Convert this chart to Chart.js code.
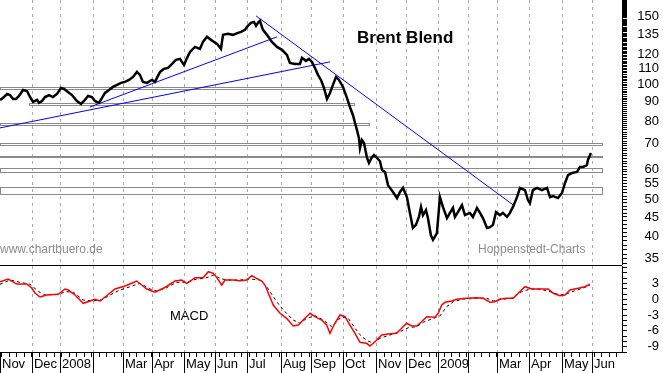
<!DOCTYPE html>
<html lang="de">
<head>
<meta charset="UTF-8">
<title>Brent Blend</title>
<style>
  html, body { margin: 0; padding: 0; background: #fff; }
  #wrap { position: relative; width: 663px; height: 373px; overflow: hidden; }
  #priceBox { position: absolute; left: 0; top: 0; width: 663px; height: 265px; }
  #macdBox { position: absolute; left: 0; top: 265px; width: 663px; height: 108px; }
</style>
</head>
<body>
<div id="wrap">
  <div id="priceBox"><canvas id="priceChart"></canvas></div>
  <div id="macdBox"><canvas id="macdChart"></canvas></div>
</div>
<script src="https://cdn.jsdelivr.net/npm/chart.js"></script>
<script>
// x axis = trading day count from start of Nov 2007
const dayMax = 414.7;
const monthDay = [0, 21.3, 40, 62, 82, 101.3, 122.7, 143.3, 164.7, 187.3, 207.3,
                  228.7, 250.7, 270.7, 292, 312, 331.3, 352.7, 374.7, 394.7];
const monthLabel = ['Nov', 'Dec', '2008', '', 'Mar', 'Apr', 'May', 'Jun', 'Jul', 'Aug', 'Sep',
                    'Oct', 'Nov', 'Dec', '2009', '', 'Mar', 'Apr', 'May', 'Jun'];

// Brent price (USD)
const priceDay = [
  0, 2, 4.7, 6.7, 8.7, 10.7, 12.7, 15.3, 18, 20,
  22, 24.7, 26, 28, 30, 32.7, 35.3, 38, 40.7, 42.7,
  45.3, 48, 51.3, 54, 56, 58.7, 61.3, 63.3, 66, 68,
  70, 72.7, 75.3, 78, 80.7, 83.3, 86, 88.7, 91.3, 93.3,
  95.3, 98, 101.3, 103.3, 106.7, 109.3, 112, 114.7, 117.3, 120,
  121.3, 122.7, 124.7, 126.7, 130, 133.3, 135.3, 138, 140.7, 142.7,
  144.7, 147.3, 148.7, 152, 155.3, 158.7, 160.7, 163.3, 165.3, 167.3,
  169.3, 170.7, 172, 173.3, 175.3, 178, 181.3, 184.7, 188, 191.3,
  193.3, 196.7, 200, 201.3, 204, 206, 208, 210, 212, 214,
  216, 218, 220, 222, 224, 226, 228.7, 231.3, 233.3, 235.3,
  236.7, 238, 239.3, 240, 241.3, 242.7, 244.7, 246, 248, 249.3,
  251.3, 253.3, 254.7, 256.7, 258.7, 260, 262, 264.7, 266.7, 268.7,
  271.3, 273.3, 275.3, 277.3, 279.3, 280.7, 282, 284, 285.3, 287.3,
  288.7, 291.3, 293.3, 295.3, 298, 300, 302, 303.3, 305.3, 308,
  310, 313.3, 315.3, 318, 320, 322, 324.7, 326.7, 328.7, 330.7,
  333.3, 335.3, 338, 340, 342, 344.7, 346.7, 350, 352, 353.3,
  355.3, 358, 361.3, 364.7, 366.7, 368.7, 372, 374.7, 376.7, 378.7,
  381.3, 384.7, 386.7, 388.7, 391.3, 392, 394
];
const priceValue = [
  91.0, 92.1, 94.3, 93.7, 91.5, 91.5, 93.2, 96.6, 96.0, 92.6,
  89.9, 91.0, 89.4, 90.4, 92.6, 93.7, 92.6, 94.3, 97.8, 97.2,
  95.5, 93.7, 90.4, 88.8, 90.4, 93.2, 92.6, 90.4, 89.4, 92.1,
  94.9, 96.6, 98.4, 99.6, 100.8, 101.4, 102.6, 104.5, 107.7, 105.8,
  101.4, 100.8, 102.6, 101.4, 107.7, 109.7, 110.3, 113.0, 115.8, 116.5,
  114.4, 112.3, 117.2, 121.5, 125.2, 123.7, 129.0, 133.0, 130.6, 129.0,
  127.5, 123.7, 134.6, 135.4, 134.6, 136.2, 137.0, 138.7, 142.1, 144.7,
  145.5, 142.1, 144.7, 146.4, 138.7, 134.6, 129.0, 125.2, 123.0, 119.3,
  113.7, 113.0, 113.0, 117.2, 115.1, 116.5, 114.4, 110.3, 105.8, 102.6,
  97.8, 91.5, 94.9, 99.6, 104.5, 102.6, 98.4, 92.1, 87.2, 83.1,
  79.2, 75.9, 72.4, 68.1, 71.5, 70.2, 64.2, 62.3, 64.5, 65.3,
  64.2, 63.0, 59.7, 59.0, 54.5, 53.6, 52.3, 50.4, 52.3, 53.6,
  50.7, 46.1, 42.1, 42.9, 45.0, 47.8, 45.5, 46.9, 44.7, 40.3,
  39.2, 40.8, 50.7, 47.8, 44.7, 46.1, 47.5, 45.0, 46.3, 48.3,
  45.5, 46.1, 45.0, 47.5, 46.1, 44.7, 42.1, 42.3, 42.9, 46.3,
  45.5, 46.1, 45.0, 46.1, 47.8, 50.7, 53.6, 52.9, 49.8, 48.9,
  52.9, 53.6, 52.9, 53.6, 50.7, 51.0, 50.4, 52.0, 55.2, 57.9,
  58.6, 59.0, 60.8, 60.8, 61.5, 63.4, 66.1
];

// trend lines
const trendFromDay = [0, 60, 170.7];
const trendFromValue = [76.9, 87.2, 150.9];
const trendToDay = [220, 184.7, 343.3];
const trendToValue = [114.4, 133.0, 48.0];

// support / resistance zones
const bandLow = [97.0, 88.1, 78.3, 69.4, 64.7, 59.0, 51.6];
const bandHigh = [98.2, 89.4, 79.2, 70.2, 65.1, 60.4, 53.9];
const bandFrom = [0, 19.3, 0, 0, 0, 0, 0];
const bandTo = [228.7, 236, 246, 401.3, 401.3, 401.3, 401.3];

const priceLabels = [35, 40, 45, 50, 55, 60, 70, 80, 90, 100, 110, 120, 135, 150];
const macdLabels = [3, 0, -3, -6, -9];

// MACD line
const macdDay = [
  0, 5.5, 11.1, 17.8, 21.1, 23.3, 26.7, 31.1, 38.9, 43.3,
  45.5, 50, 55.5, 60, 63.3, 66.7, 71.1, 76.7, 83.3, 87.8,
  91.1, 94.5, 97.8, 103.3, 108.9, 116.7, 121.1, 124.5, 127.8, 130,
  135.5, 138.9, 142.2, 144.9, 147.8, 150, 155.5, 160, 164.5, 167.8,
  171.1, 174.5, 176.7, 178.9, 182.2, 186.7, 191.1, 195.5, 198.9, 203.3,
  206.7, 210, 214.5, 217.8, 220, 223.3, 226.7, 230, 233.3, 236.7,
  240, 244.5, 246.7, 250, 254.5, 258.9, 264.5, 267.8, 271.1, 274.5,
  277.8, 281.1, 284.5, 290, 292.2, 294.5, 296.7, 301.1, 304.5, 311.1,
  317.8, 322.2, 326.7, 330, 333.3, 337.8, 342.2, 345.5, 350, 354.5,
  360, 365.5, 368.9, 373.3, 376.7, 380, 385.5, 390, 393.3
];
const macdValue = [
  3.34, 3.85, 2.90, 2.90, 2.14, 1.20, 0.44, 0.82, 0.95, 1.95,
  1.76, 0.82, -0.76, -0.32, 0, -0.32, 0.68, 1.95, 2.52, 3.04,
  3.47, 2.71, 1.95, 1.33, 2.09, 3.47, 3.66, 3.04, 3.66, 4.10,
  4.10, 5.24, 4.93, 3.98, 2.71, 3.66, 3.66, 3.53, 3.66, 4.48,
  3.98, 3.47, 2.71, 1.14, -1.08, -2.66, -3.61, -5.07, -4.88, -3.61,
  -2.66, -3.30, -3.93, -4.88, -6.45, -4.50, -2.98, -3.30, -4.88, -6.45,
  -8.16, -8.35, -8.86, -8.05, -6.77, -6.58, -6.45, -5.50, -4.55, -5.07,
  -5.07, -4.25, -3.30, -3.42, -2.66, -1.08, -0.57, -0.32, 0, 0.19,
  0.30, 0.19, -0.57, -0.46, 0.06, 0.19, 0.19, 1.14, 2.39, 1.95,
  1.95, 1.95, 1.14, 0.68, 0.82, 1.76, 2.09, 2.39, 2.85
];

// signal line
const signalDay = [
  0, 6.7, 13.3, 20, 24.5, 28.9, 37.8, 44.5, 48.9, 55.5,
  61.1, 67.8, 73.3, 80, 86.7, 93.3, 100, 104.5, 111.1, 117.8,
  124.5, 131.1, 136.7, 142.2, 147.8, 153.3, 160, 166.7, 173.3, 177.8,
  184.5, 188.9, 195.5, 200, 204.5, 210, 215.5, 221.1, 227.8, 232.2,
  236.7, 241.1, 245.5, 248.9, 253.3, 260, 266.7, 272.2, 277.8, 282.2,
  288.9, 293.3, 297.8, 302.2, 308.9, 317.8, 324.5, 328.9, 334.5, 341.1,
  347.8, 353.3, 360, 366.7, 373.3, 378.9, 384.5, 391.1, 393.3
];
const signalValue = [
  2.85, 3.66, 3.23, 2.85, 1.76, 0.82, 0.95, 1.44, 1.33, -0.13,
  -0.32, -0.13, 0.82, 1.76, 2.39, 3.04, 1.95, 1.57, 2.20, 3.23,
  3.23, 3.85, 3.98, 4.61, 3.85, 3.66, 3.66, 3.85, 3.66, 2.39,
  -0.46, -2.03, -3.93, -4.55, -3.61, -3.11, -3.93, -5.20, -3.30, -3.61,
  -5.50, -7.10, -7.91, -8.35, -7.40, -6.77, -6.15, -5.39, -5.20, -4.36,
  -3.61, -3.17, -1.40, -0.46, 0.06, 0.19, 0.19, -0.32, 0, 0.19,
  1.44, 1.95, 1.95, 1.44, 0.82, 1.14, 1.76, 2.39, 2.71
];

Chart.defaults.font.family = '"Liberation Sans", Arial, sans-serif';
Chart.defaults.font.size = 13;
Chart.defaults.color = '#000';

const pairs = (xs, ys) => xs.map((x, i) => ({ x: x, y: ys[i] }));

// dashed month lines
const monthGrid = {
  id: 'monthGrid',
  beforeDatasetsDraw(chart) {
    const { ctx, chartArea: a } = chart;
    const x = chart.scales.x;
    ctx.save();
    ctx.strokeStyle = '#ababab';
    ctx.lineWidth = 1;
    ctx.setLineDash([3, 4]);
    monthDay.forEach(d => {
      const px = Math.round(x.getPixelForValue(d)) + 0.5;
      if (px < 2) return;
      ctx.beginPath();
      ctx.moveTo(px, a.top);
      ctx.lineTo(px, a.bottom);
      ctx.stroke();
    });
    ctx.restore();
  }
};

const priceDecor = {
  id: 'priceDecor',
  beforeDatasetsDraw(chart) {
    const { ctx } = chart;
    const x = chart.scales.x, y = chart.scales.y;
    ctx.save();
    ctx.strokeStyle = '#8a8a8a';
    ctx.lineWidth = 1;
    bandLow.forEach((lo, i) => {
      const x1 = Math.round(x.getPixelForValue(bandFrom[i]));
      const x2 = Math.round(x.getPixelForValue(bandTo[i]));
      const yt = Math.round(y.getPixelForValue(bandHigh[i]));
      const yb = Math.round(y.getPixelForValue(lo));
      ctx.strokeRect(x1 + 0.5, yt + 0.5, x2 - x1, Math.max(1, yb - yt));
    });
    ctx.restore();
  },
  afterDraw(chart) {
    const { ctx } = chart;
    ctx.save();
    ctx.textBaseline = 'middle';
    ctx.textAlign = 'left';
    ctx.fillStyle = '#000';
    ctx.font = 'bold 17px "Liberation Sans", Arial, sans-serif';
    ctx.fillText('Brent Blend', 357, 38);
    ctx.fillStyle = '#8c8c8c';
    ctx.font = '12px "Liberation Sans", Arial, sans-serif';
    ctx.fillText('www.chartbuero.de', 0, 250);
    ctx.fillText('Hoppenstedt-Charts', 478, 250);
    ctx.restore();
  }
};

const macdDecor = {
  id: 'macdDecor',
  afterDraw(chart) {
    const { ctx, chartArea: a } = chart;
    const x = chart.scales.x;
    const h = chart.height;
    ctx.save();
    ctx.fillStyle = '#000';
    ctx.fillRect(0, 0, a.right, 1);
    ctx.fillRect(0, a.bottom, a.right + 1, 1);
    for (let d = 1; d <= dayMax; d += 5) {
      const px = Math.round(x.getPixelForValue(d));
      ctx.fillRect(px, a.bottom, 1, 5);
    }
    monthDay.forEach(d => {
      const px = Math.round(x.getPixelForValue(d));
      ctx.fillRect(px, a.bottom, 1, h - a.bottom);
    });
    ctx.textBaseline = 'middle';
    ctx.textAlign = 'left';
    ctx.font = '13px "Liberation Sans", Arial, sans-serif';
    ctx.fillText('MACD', 170, 51);
    ctx.restore();
  }
};

const rightAxis = (extra) => Object.assign({
  position: 'right',
  bounds: 'data',
  afterFit: s => { s.width = 37; s.paddingTop = 0; s.paddingBottom = 0; },
  grid: { drawOnChartArea: false, drawTicks: true, tickLength: 5, color: '#000' },
  border: { display: true, color: '#000' },
  ticks: { autoSkip: false, crossAlign: 'far', padding: 2, color: '#000', font: { size: 13 } }
}, extra);

new Chart(document.getElementById('priceChart'), {
  type: 'line',
  data: {
    datasets: [
      { data: pairs(priceDay, priceValue), borderColor: '#000', borderWidth: 2.5, pointRadius: 0 },
      ...trendFromDay.map((d, i) => ({
        data: [{ x: d, y: trendFromValue[i] }, { x: trendToDay[i], y: trendToValue[i] }],
        borderColor: '#0000ff', borderWidth: 1, pointRadius: 0
      }))
    ]
  },
  options: {
    responsive: true,
    maintainAspectRatio: false,
    animation: false,
    devicePixelRatio: 1,
    layout: { padding: { left: 0, right: 4, top: 0, bottom: 0 } },
    plugins: { legend: { display: false }, tooltip: { enabled: false } },
    scales: {
      x: { type: 'linear', min: 0, max: dayMax, bounds: 'data', display: false },
      y: rightAxis({
        type: 'logarithmic', min: 33.7, max: 166,
        afterBuildTicks: s => {
          const t = [];
          for (let v = 34; v <= 166; v++) t.push({ value: v });
          s.ticks = t;
        },
        ticks: { autoSkip: false, crossAlign: 'far', padding: 2, color: '#000', font: { size: 13 },
                 callback: v => priceLabels.includes(v) ? String(v) : '' }
      })
    }
  },
  plugins: [monthGrid, priceDecor]
});

new Chart(document.getElementById('macdChart'), {
  type: 'line',
  data: {
    datasets: [
      { data: pairs(macdDay, macdValue), borderColor: '#ff0000', borderWidth: 1.5, pointRadius: 0 },
      { data: pairs(signalDay, signalValue), borderColor: '#000', borderWidth: 1, borderDash: [3, 3], pointRadius: 0 }
    ]
  },
  options: {
    responsive: true,
    maintainAspectRatio: false,
    animation: false,
    devicePixelRatio: 1,
    layout: { padding: { left: 0, right: 4, top: 1, bottom: 0 } },
    plugins: { legend: { display: false }, tooltip: { enabled: false } },
    scales: {
      x: {
        type: 'linear', min: 0, max: dayMax, bounds: 'data', position: 'bottom',
        afterBuildTicks: s => { s.ticks = monthDay.map(v => ({ value: v })); },
        afterFit: s => { s.height = 21; s.paddingLeft = 0; s.paddingRight = 0; },
        grid: { display: false, drawTicks: false },
        border: { display: false },
        ticks: { autoSkip: false, maxRotation: 0, align: 'start', labelOffset: 2, padding: 5,
                 color: '#000', font: { size: 13 }, callback: (v, i) => monthLabel[i] }
      },
      y: rightAxis({
        type: 'linear', min: -10, max: 6.32,
        afterBuildTicks: s => {
          const t = [];
          for (let v = -10; v <= 6; v++) t.push({ value: v });
          s.ticks = t;
        },
        ticks: { autoSkip: false, crossAlign: 'far', padding: 2, color: '#000', font: { size: 13 },
                 callback: v => macdLabels.includes(v) ? String(v) : '' }
      })
    }
  },
  plugins: [monthGrid, macdDecor]
});
</script>
</body>
</html>
